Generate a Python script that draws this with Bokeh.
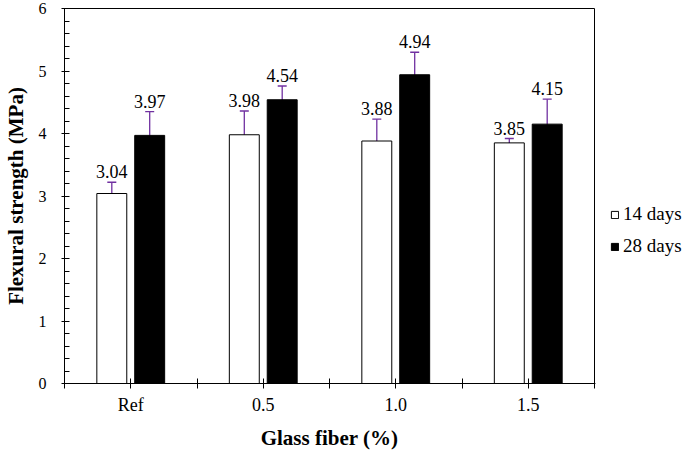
import numpy as np
from bokeh.plotting import figure
from bokeh.layouts import row
from bokeh.models import (ColumnDataSource, FixedTicker, SingleIntervalTicker, Whisker,
                          TeeHead, Legend, LegendItem, Range1d)
from bokeh.core.properties import value
from bokeh.embed import file_html
from bokeh.resources import INLINE

# ---- data ----
categories = ["Ref", "0.5", "1.0", "1.5"]
days14 = [3.04, 3.98, 3.88, 3.85]
days28 = [3.97, 4.54, 4.94, 4.15]
err14 = [0.18, 0.38, 0.35, 0.07]
err28 = [0.38, 0.22, 0.36, 0.40]
series_names = ["14 days", "28 days"]
y_min, y_max = 0, 6

FONT = "Liberation Serif"
PURPLE = "#7030A0"
n = len(categories)
idx = np.arange(n)
centers = idx + 0.5
off = 0.143
w = 0.226
H = 452

p = figure(width=595, height=H, output_backend="svg", toolbar_location=None,
           x_range=Range1d(0, n), y_range=Range1d(y_min, y_max),
           min_border_top=8, min_border_left=10, min_border_right=1, min_border_bottom=0)
p.background_fill_color = "white"
p.border_fill_color = "white"
p.outline_line_color = "black"
p.outline_line_width = 1
p.xgrid.visible = False
p.ygrid.visible = False

def src(vals, errs, shift):
    vals = np.array(vals); errs = np.array(errs)
    return ColumnDataSource(dict(x=centers + shift, top=vals, upper=vals + errs,
                                 lower=vals - errs, lab=["%.2f" % v for v in vals]))

s14 = src(days14, err14, -off)
s28 = src(days28, err28, off)

style14 = dict(fill_color="white", line_color="black", line_width=1)
style28 = dict(fill_color="black", line_color="black", line_width=1)
p.vbar(x="x", top="top", width=w, source=s14, **style14)
p.vbar(x="x", top="top", width=w, source=s28, **style28)

for s in (s14, s28):
    wh = Whisker(base="x", upper="upper", lower="lower", source=s,
                 line_color=PURPLE, line_width=1.3,
                 upper_head=TeeHead(size=9, line_color=PURPLE, line_width=1.3),
                 lower_head=TeeHead(size=9, line_color=PURPLE, line_width=1.3))
    p.add_layout(wh)
    p.text(x="x", y="upper", text="lab", source=s, text_align="center",
           text_baseline="bottom", y_offset=-4, text_font=value(FONT),
           text_font_size="18px", text_color="black")

# x axis
p.xaxis.ticker = FixedTicker(ticks=list(centers), minor_ticks=list(np.arange(n + 1)))
p.xaxis.major_label_overrides = {float(c): lab for c, lab in zip(centers, categories)}
p.xaxis.major_tick_in = 5
p.xaxis.major_tick_out = 5
p.xaxis.minor_tick_in = 5
p.xaxis.minor_tick_out = 5
p.xaxis.major_label_standoff = 6
p.xaxis.axis_label = "Glass fiber (%)"
p.xaxis.axis_label_standoff = 8

# y axis
p.yaxis.ticker = SingleIntervalTicker(interval=1, num_minor_ticks=5)
p.yaxis.major_tick_in = 3
p.yaxis.major_tick_out = 3
p.yaxis.minor_tick_in = 5
p.yaxis.minor_tick_out = 0
p.yaxis.major_label_standoff = 15
p.yaxis.axis_label = "Flexural strength (MPa)"
p.yaxis.axis_label_standoff = 8

for ax in (p.xaxis[0], p.yaxis[0]):
    ax.axis_line_color = "black"
    ax.major_tick_line_color = "black"
    ax.minor_tick_line_color = "black"
    ax.major_label_text_font = FONT
    ax.major_label_text_color = "black"
    ax.axis_label_text_font = FONT
    ax.axis_label_text_font_style = "bold"
    ax.axis_label_text_font_size = "21px"
    ax.axis_label_text_color = "black"
p.xaxis.major_label_text_font_size = "18px"
p.yaxis.major_label_text_font_size = "16px"

# legend panel (separate figure to the right of the plot frame)
lf = figure(width=90, height=H, output_backend="svg", toolbar_location=None,
            x_range=Range1d(0, 1), y_range=Range1d(0, 1),
            min_border=0, outline_line_color=None)
lf.axis.visible = False
lf.grid.visible = False
# swatch renderers (zero-height bars outside the visible range, used only for the legend)
swatch = ColumnDataSource(dict(x=[-10.0], top=[0.0]))
l14 = lf.vbar(x="x", top="top", width=w, source=swatch, **style14)
l28 = lf.vbar(x="x", top="top", width=w, source=swatch, **style28)
legend = Legend(items=[LegendItem(label=series_names[0], renderers=[l14]),
                       LegendItem(label=series_names[1], renderers=[l28])],
                location=(13, 124), orientation="vertical",
                glyph_width=9, glyph_height=9, label_text_font=FONT,
                label_text_font_size="19px", label_text_color="black",
                label_standoff=4, spacing=10, padding=2, margin=0,
                label_height=20, border_line_alpha=0, background_fill_alpha=0)
lf.add_layout(legend)

layout = row(p, lf)
open("out.html", "w").write(file_html(layout, INLINE))
